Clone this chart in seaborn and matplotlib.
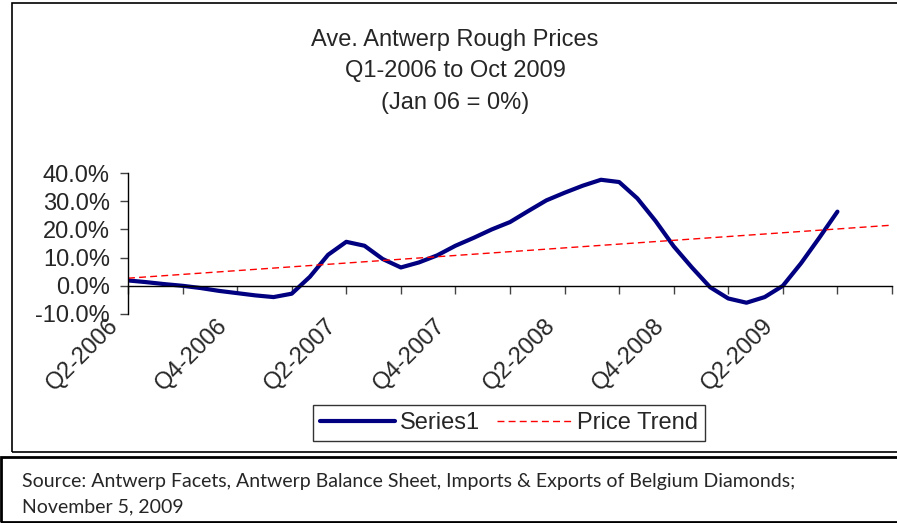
import numpy as np
import pandas as pd
import matplotlib
matplotlib.use('Agg')
import matplotlib.pyplot as plt
import seaborn as sns
from matplotlib.patches import Rectangle
from matplotlib.transforms import ScaledTranslation

# monthly values (% change vs Jan 06), Apr 2006 .. Jul 2009
month_idx = list(range(40))
price_change = [1.9, 1.3, 0.6, 0.0, -0.8, -1.8, -2.6, -3.4, -4.0, -2.8,
                3.2, 11.0, 15.6, 14.2, 9.5, 6.5, 8.3, 10.8, 14.2, 17.0,
                20.0, 22.6, 26.5, 30.3, 33.0, 35.5, 37.6, 36.8, 31.0, 23.0,
                14.0, 6.5, -0.5, -4.5, -6.0, -4.0, 0.0, 8.0, 17.0, 26.3]

# linear price trend, read at both ends of the axis
trend_idx = [0, 42]
trend_vals = [2.7, 21.5]

quarter_ticks = list(range(0, 43, 3))
quarter_labels = ['Q2-2006', '', 'Q4-2006', '', 'Q2-2007', '', 'Q4-2007', '',
                  'Q2-2008', '', 'Q4-2008', '', 'Q2-2009', '', '']
y_ticks = [-10, 0, 10, 20, 30, 40]
y_labels = ['-10.0%', '0.0%', '10.0%', '20.0%', '30.0%', '40.0%']

sns.set_style('white')
plt.rcParams['font.family'] = ['Liberation Sans', 'DejaVu Sans']

W, H = 897, 523
fig = plt.figure(figsize=(W / 100, H / 100), dpi=100)
ax = fig.add_axes([128 / W, 1 - 314 / H, (892 - 128) / W, (314 - 173) / H])

series_df = pd.DataFrame({'month': month_idx, 'value': price_change})
trend_df = pd.DataFrame({'month': trend_idx, 'value': trend_vals})

sns.lineplot(data=series_df, x='month', y='value', ax=ax, color='#000080',
             linewidth=3, label='Series1')
sns.lineplot(data=trend_df, x='month', y='value', ax=ax, color='#FF0000',
             linewidth=1, linestyle=(0, (5, 3)), label='Price Trend')

ax.set_xlim(0, 42)
ax.set_ylim(-10, 40)
ax.set_xlabel('')
ax.set_ylabel('')

for s in ['top', 'right']:
    ax.spines[s].set_visible(False)
ax.spines['left'].set_color('black')
ax.spines['left'].set_linewidth(1)
ax.spines['bottom'].set_position(('data', 0))
ax.spines['bottom'].set_color('black')
ax.spines['bottom'].set_linewidth(1)

ax.set_yticks(y_ticks)
ax.set_yticklabels(y_labels, fontsize=17)
ax.set_xticks(quarter_ticks)
ax.set_xticklabels(quarter_labels, fontsize=17, rotation=45, ha='right',
                   va='center', rotation_mode='anchor')
ax.tick_params(axis='y', direction='out', length=6, width=1, color='#444444',
               pad=7, left=True)
ax.tick_params(axis='x', direction='out', length=6, width=1, color='#444444',
               pad=20, bottom=True)
shift = ScaledTranslation(-0.13, 0, fig.dpi_scale_trans)
for lbl in ax.get_xticklabels():
    lbl.set_transform(lbl.get_transform() + shift)
ax.patch.set_alpha(0)

ax.legend_.remove()
handles, labels = ax.get_legend_handles_labels()
leg = fig.legend(handles, labels, loc='center', bbox_to_anchor=(509 / W, 1 - 423 / H),
                 ncol=2, fontsize=17, frameon=True, fancybox=False, edgecolor='black',
                 handlelength=3.2, handletextpad=0.2, columnspacing=0.7,
                 borderpad=0.3)
leg.get_frame().set_linewidth(1)

fig.text(455 / W, 1 - 40 / H, 'Ave. Antwerp Rough Prices', ha='center', va='center', fontsize=17)
fig.text(455 / W, 1 - 71 / H, 'Q1-2006 to Oct 2009', ha='center', va='center', fontsize=17)
fig.text(455 / W, 1 - 103 / H, '(Jan 06 = 0%)', ha='center', va='center', fontsize=17)

# chart border and source box
fig.patches.append(Rectangle((12 / W, 1 - 452 / H), (905 - 12) / W, (452 - 3) / H,
                             transform=fig.transFigure, fill=False, edgecolor='black',
                             linewidth=1.2))
fig.patches.append(Rectangle((1 / W, 1 - 522 / H), (905 - 1) / W, (522 - 457) / H,
                             transform=fig.transFigure, fill=False, edgecolor='black',
                             linewidth=2))

fig.text(22 / W, 1 - 482 / H,
         'Source: Antwerp Facets, Antwerp Balance Sheet, Imports & Exports of Belgium Diamonds;',
         ha='left', va='center', fontsize=14, family=['Lato', 'DejaVu Sans'])
fig.text(22 / W, 1 - 507 / H, 'November 5, 2009', ha='left', va='center', fontsize=14,
         family=['Lato', 'DejaVu Sans'])

fig.savefig('out.png', dpi=100)
